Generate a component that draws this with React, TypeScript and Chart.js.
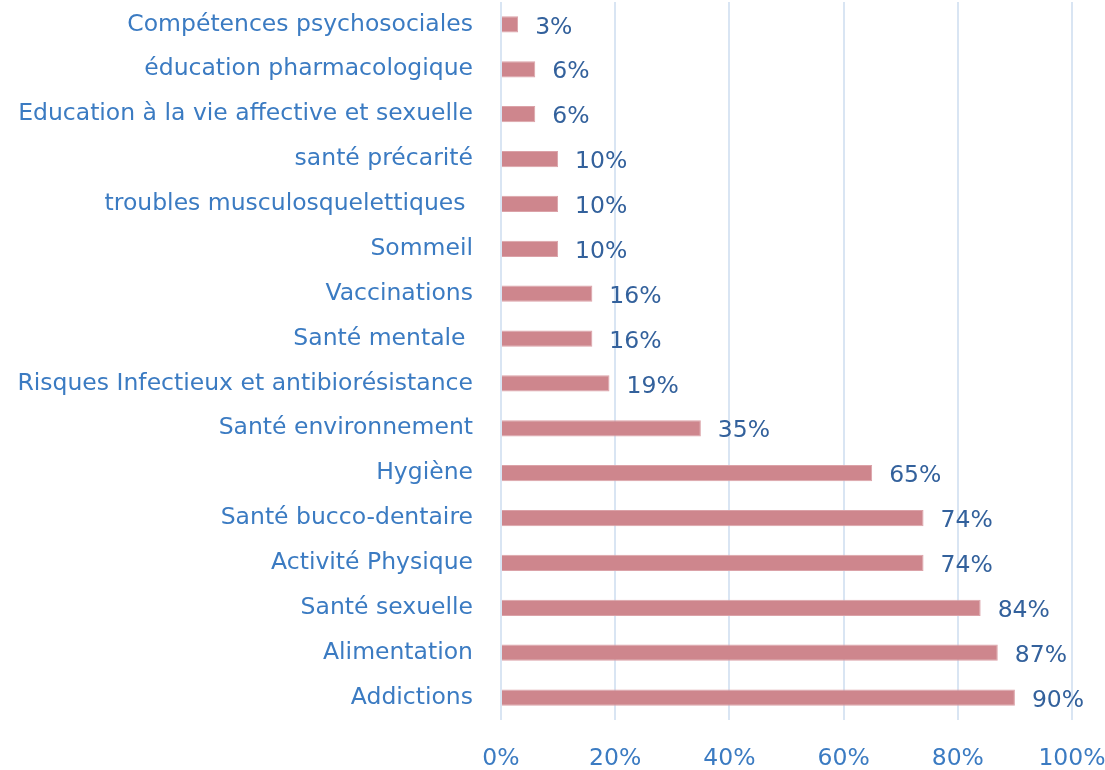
import React, { useEffect, useRef } from "react";
import { Chart, registerables } from "chart.js";

Chart.register(...registerables);

const categories = [
  "Compétences psychosociales",
  "éducation pharmacologique",
  "Education à la vie affective et sexuelle",
  "santé précarité",
  "troubles musculosquelettiques ",
  "Sommeil",
  "Vaccinations",
  "Santé mentale ",
  "Risques Infectieux et antibiorésistance",
  "Santé environnement",
  "Hygiène",
  "Santé bucco-dentaire",
  "Activité Physique",
  "Santé sexuelle",
  "Alimentation",
  "Addictions",
];

const values = [3, 6, 6, 10, 10, 10, 16, 16, 19, 35, 65, 74, 74, 84, 87, 90];

const xTicks = [0, 20, 40, 60, 80, 100];

const FONT = "'DejaVu Sans', sans-serif";
const SIZE = 23.5;

const valueLabels = {
  id: "valueLabels",
  afterDatasetsDraw(chart: any) {
    const ctx = chart.ctx;
    const meta = chart.getDatasetMeta(0);
    ctx.save();
    ctx.font = `${SIZE}px ${FONT}`;
    ctx.fillStyle = "#33619c";
    ctx.textAlign = "left";
    ctx.textBaseline = "middle";
    meta.data.forEach((bar: any, i: number) => {
      ctx.fillText(`${values[i]}%`, bar.x + 17, bar.y + 3);
    });
    ctx.restore();
  },
};

export default function App() {
  const ref = useRef<HTMLCanvasElement | null>(null);
  useEffect(() => {
    if (!ref.current) return;
    const chart = new Chart(ref.current, {
      type: "bar",
      data: {
        labels: categories,
        datasets: [
          {
            data: values,
            backgroundColor: "#ce868d",
            borderColor: "#dba2a8",
            borderWidth: 1,
            categoryPercentage: 1,
            barPercentage: 0.36,
          },
        ],
      },
      options: {
        indexAxis: "y",
        animation: false,
        responsive: false,
        maintainAspectRatio: false,
        layout: { padding: { top: 2, right: 33, left: 0, bottom: 0 } },
        plugins: {
          legend: { display: false },
          tooltip: { enabled: false },
        },
        scales: {
          x: {
            min: 0,
            max: 100,
            afterBuildTicks: (scale: any) => {
              scale.ticks = xTicks.map((v) => ({ value: v }));
            },
            afterFit: (scale: any) => {
              scale.height = 50;
              scale.paddingLeft = 0;
              scale.paddingRight = 0;
            },
            grid: {
              color: "#d9e5f3",
              lineWidth: 2,
              drawTicks: true,
              tickLength: 25,
              tickColor: "transparent",
            },
            border: { display: false },
            ticks: {
              padding: 0,
              color: "#3b7bc2",
              font: { family: FONT, size: SIZE },
              maxRotation: 0,
              callback: (v: any) => `${v}%`,
            },
          },
          y: {
            afterFit: (scale: any) => {
              scale.width = 501;
              scale.paddingTop = 0;
              scale.paddingBottom = 0;
            },
            grid: {
              display: true,
              drawOnChartArea: false,
              drawTicks: true,
              tickLength: 28,
              tickColor: "transparent",
            },
            border: { display: false },
            ticks: {
              padding: 0,
              color: "#3b7bc2",
              font: { family: FONT, size: SIZE },
              autoSkip: false,
            },
          },
        },
      },
      plugins: [valueLabels],
    });
    return () => chart.destroy();
  }, []);
  return (
    <div style={{ position: "absolute", left: 0, top: 0, width: 1105, height: 770, background: "#fff" }}>
      <canvas ref={ref} width={1105} height={770} style={{ display: "block" }} />
    </div>
  );
}
